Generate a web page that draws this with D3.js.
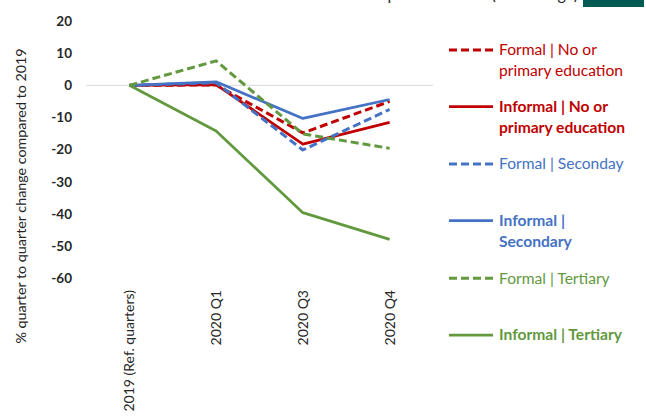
<!DOCTYPE html>
<html lang="en">
	<head>
		<meta charset="utf-8">
		<title>Quarter to quarter change compared to 2019</title>
		<script type="text/javascript" src="https://d3js.org/d3.v7.min.js"></script>
		<style>
			body { margin: 0; background: #fff; }
			text { font-family: Lato, "Open Sans", sans-serif; }
			.tick_y { font-size: 13.5px; font-weight: bold; fill: #262626; }
			.tick_x { font-size: 14px; fill: #262626; }
			.label { font-size: 14.3px; fill: #262626; }
			.legend_labels { font-size: 15.6px; }
		</style>
	</head>
	<body>
		<script type="text/javascript">

			// canvas
			var W = 646, H = 417;

			// data
			var categories = ["2019 (Ref. quarters)", "2020 Q1", "2020 Q3", "2020 Q4"];
			var yTicks = [20, 10, 0, -10, -20, -30, -40, -50, -60];

			var formalNoPrimary   = [0, 0.1, -14.8, -5.0];
			var informalNoPrimary = [0, 0.2, -18.3, -11.5];
			var formalSecondary   = [0, 0.8, -20.1, -7.5];
			var informalSecondary = [0, 1.1, -10.3, -4.4];
			var formalTertiary    = [0, 7.6, -15.1, -19.6];
			var informalTertiary  = [0, -14.2, -39.6, -47.9];

			var seriesNames = [
				["Formal | No or", "primary education"],
				["Informal | No or", "primary education"],
				["Formal | Seconday"],
				["Informal |", "Secondary"],
				["Formal | Tertiary"],
				["Informal | Tertiary"]
			];

			var red = "#C00000", blue = "#4472C4", green = "#62993E";

			var series = [
				{name: seriesNames[0], values: formalNoPrimary,   color: red,   dashed: true,  bold: false},
				{name: seriesNames[1], values: informalNoPrimary, color: red,   dashed: false, bold: true},
				{name: seriesNames[2], values: formalSecondary,   color: blue,  dashed: true,  bold: false},
				{name: seriesNames[3], values: informalSecondary, color: blue,  dashed: false, bold: true},
				{name: seriesNames[4], values: formalTertiary,    color: green, dashed: true,  bold: false},
				{name: seriesNames[5], values: informalTertiary,  color: green, dashed: false, bold: true}
			];

			// scales
			var xScale = d3.scaleBand()
						   .domain(categories)
						   .range([86, 433])
						   .padding(0);

			var yScale = d3.scaleLinear()
						   .domain([-60, 20])
						   .range([278.3, 21]);

			var xc = function(c) { return xScale(c) + xScale.bandwidth() / 2; };

			var svg = d3.select("body")
						.append("svg")
						.attr("width", W)
						.attr("height", H);

			// title cut off at the top edge, as in the source, and header block
			svg.append("text")
				.attr("x", 578)
				.attr("y", 0)
				.attr("text-anchor", "end")
				.style("font-size", "16px")
				.style("fill", "#262626")
				.text("compared to 2019 (Percentage)");

			svg.append("rect")
				.attr("x", 583)
				.attr("y", 0)
				.attr("width", 61)
				.attr("height", 7)
				.style("fill", "#005A54");

			// zero line
			svg.append("line")
				.attr("x1", 86)
				.attr("x2", 433)
				.attr("y1", yScale(0))
				.attr("y2", yScale(0))
				.style("stroke", "#D9D9D9")
				.style("stroke-width", 1);

			// y tick labels
			svg.selectAll(".tick_y")
				.data(yTicks)
				.enter()
				.append("text")
					.attr("class", "tick_y")
					.attr("x", 72)
					.attr("y", function(d) { return yScale(d); })
					.attr("dy", "0.35em")
					.attr("text-anchor", "end")
					.text(function(d) { return d; });

			// x tick labels (rotated)
			svg.selectAll(".tick_x")
				.data(categories)
				.enter()
				.append("text")
					.attr("class", "tick_x")
					.attr("transform", function(d) { return "translate(" + (xc(d) + 5) + ",290) rotate(-90)"; })
					.attr("text-anchor", "end")
					.text(function(d) { return d; });

			// y title
			svg.append("text")
				.attr("class", "label")
				.attr("transform", "translate(26,196) rotate(-90)")
				.attr("text-anchor", "middle")
				.text("% quarter to quarter change compared to 2019");

			// lines
			var line = d3.line()
						.x(function(d, i) { return xc(categories[i]); })
						.y(function(d) { return yScale(d); });

			svg.selectAll(".series")
				.data(series)
				.enter()
				.append("path")
					.attr("class", "series")
					.attr("d", function(d) { return line(d.values); })
					.style("fill", "none")
					.style("stroke", function(d) { return d.color; })
					.style("stroke-width", function(d) { return d.dashed ? 3 : 2.75; })
					.style("stroke-dasharray", function(d) { return d.dashed ? "8,4" : null; })
					.style("stroke-linejoin", "round");

			// legend
			var legend_x = 449, legend_w = 44, text_x = 499;
			var legend_y = [50, 106.7, 164, 220.7, 278.3, 335];
			var lineH = 20.7;

			var lg = svg.selectAll(".legend")
						.data(series)
						.enter()
						.append("g")
						.attr("class", "legend");

			lg.append("line")
				.attr("x1", legend_x)
				.attr("x2", legend_x + legend_w)
				.attr("y1", function(d, i) { return legend_y[i]; })
				.attr("y2", function(d, i) { return legend_y[i]; })
				.style("stroke", function(d) { return d.color; })
				.style("stroke-width", function(d) { return d.dashed ? 3 : 2.75; })
				.style("stroke-dasharray", function(d) { return d.dashed ? "8,4" : null; });

			lg.each(function(d, i) {
				var t = d3.select(this).append("text")
					.attr("class", "legend_labels")
					.style("fill", d.color)
					.style("font-weight", d.bold ? "bold" : "normal");
				d.name.forEach(function(s, j) {
					t.append("tspan")
						.attr("x", text_x)
						.attr("y", legend_y[i] + j * lineH)
						.attr("dy", "0.35em")
						.text(s);
				});
			});

		</script>
	</body>
</html>
